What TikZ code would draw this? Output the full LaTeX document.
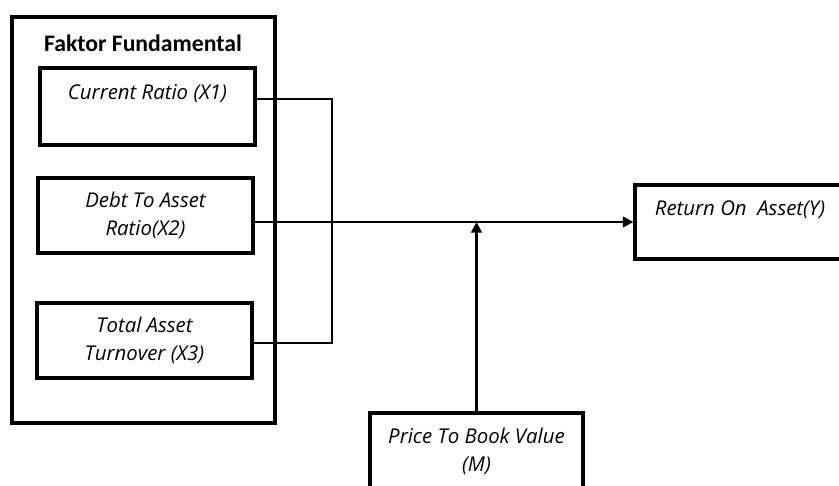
\documentclass[tikz,border=0pt]{standalone}
\usepackage{fontspec}
\setmainfont{Open Sans}
\newfontfamily\titlefont{Carlito}
\usetikzlibrary{positioning, arrows.meta}

\begin{document}
\begin{tikzpicture}[x=0.02cm, y=-0.02cm,
  varbox/.style={draw, line width=1.8pt, minimum width=4.3cm, inner sep=0pt,
    align=center, font=\fontsize{11.6}{16}\selectfont\itshape},
  wire/.style={line width=1.7pt},
  tip/.style={-{Triangle[length=6pt, width=6pt]}}]
  \useasboundingbox (0,0) rectangle (839,486);
  \clip (0,0) rectangle (839,486);

  % ── Faktor Fundamental group ──
  \node[draw, line width=2.6pt, minimum width=5.26cm, minimum height=8.12cm]
    (fund) at (143.5,220) {};
  \node[font=\titlefont\fontsize{13.5}{16}\selectfont\bfseries] (fundtitle)
    at (143,43) {Faktor Fundamental};

  \node[varbox, minimum height=1.54cm] (x1) at (147.5,106.5)
    {Current Ratio (X1)\\\mbox{}};
  \node[varbox, minimum height=1.5cm] (x2) at (145.5,215.5)
    {Debt To Asset\\Ratio(X2)};
  \node[varbox, minimum height=1.5cm] (x3) at (144.5,340.5)
    {Total Asset\\Turnover (X3)};

  % ── Dependent and moderating variables ──
  \node[varbox, minimum width=4.2cm, minimum height=1.48cm] (ret) at (740,222)
    {Return On~~Asset(Y)\\\mbox{}};
  \node[varbox, minimum width=4.26cm, minimum height=1.54cm] (price) at (476.5,451.5)
    {Price To Book Value\\(M)};

  % ── Connectors ──
  \coordinate (spine) at (332,222);
  \draw[wire] ([yshift=0.15cm]x1.east) -| (spine) |- ([yshift=-0.05cm]x3.east);
  \draw[wire, tip] (x2.east |- ret.west) -- (ret.west);
  \draw[wire, tip] (price.north) -- (price.north |- ret.west);
\end{tikzpicture}
\end{document}
